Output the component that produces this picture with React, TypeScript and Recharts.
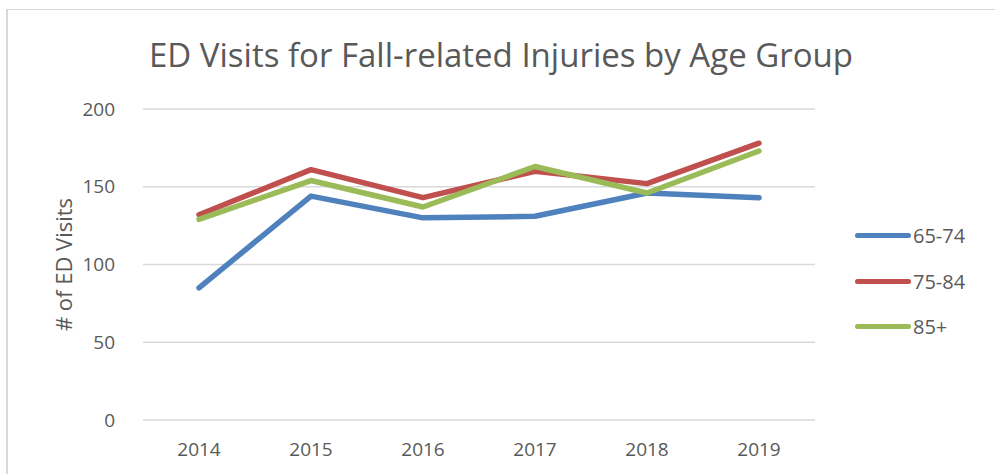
import React from "react";
import { LineChart, Line, XAxis, YAxis, CartesianGrid } from "recharts";

const years = ["2014", "2015", "2016", "2017", "2018", "2019"];
const age65to74 = [85, 144, 130, 131, 146, 143];
const age75to84 = [132, 161, 143, 160, 152, 178];
const age85plus = [129, 154, 137, 163, 146, 173];
const yTicks = [0, 50, 100, 150, 200];

const series = [
  { key: "65-74", color: "#4f81bd" },
  { key: "75-84", color: "#c0504d" },
  { key: "85+", color: "#9bbb59" },
];

const data = years.map((year, i) => ({
  year,
  "65-74": age65to74[i],
  "75-84": age75to84[i],
  "85+": age85plus[i],
}));

const FONT = "'Open Sans', sans-serif";

function LegendBox() {
  return (
    <div style={{ position: "absolute", left: 855, top: 213, fontFamily: FONT }}>
      {series.map((s) => (
        <div key={s.key} style={{ display: "flex", alignItems: "center", height: 45.5 }}>
          <div style={{ width: 56, height: 5, borderRadius: 3, background: s.color }} />
          <span style={{ fontSize: 20, color: "#595959", marginLeft: 2 }}>{s.key}</span>
        </div>
      ))}
    </div>
  );
}

export default function App() {
  return (
    <div style={{ position: "fixed", left: 0, top: 0, width: 995, height: 474, background: "#fff", overflow: "hidden" }}>
      <div
        style={{
          position: "absolute",
          top: 32,
          left: 0,
          width: 1002,
          textAlign: "center",
          fontFamily: FONT,
          fontSize: 33,
          color: "#595959",
        }}
      >
        ED Visits for Fall-related Injuries by Age Group
      </div>
      <div style={{ position: "absolute", left: 0, top: 0 }}>
        <LineChart
          width={995}
          height={474}
          data={data}
          margin={{ top: 109, right: 180, left: 0, bottom: 0 }}
        >
          <CartesianGrid vertical={false} stroke="#d9d9d9" strokeWidth={1.5} />
          <XAxis
            dataKey="year"
            axisLine={false}
            tickLine={false}
            height={54}
            padding={{ left: 56, right: 56 }}
            tickMargin={17}
            tick={{ fill: "#595959", fontSize: 19, fontFamily: FONT }}
          />
          <YAxis
            width={143}
            domain={[0, 200]}
            ticks={yTicks}
            axisLine={false}
            tickLine={false}
            tickMargin={22}
            tick={{ fill: "#595959", fontSize: 19, fontFamily: FONT }}
            label={{
              value: "# of ED Visits",
              angle: -90,
              position: "insideLeft",
              dx: 59,
              dy: 0,
              style: { textAnchor: "middle", fill: "#595959", fontSize: 22, fontFamily: FONT },
            }}
          />
          {series.map((s) => (
            <Line
              key={s.key}
              type="linear"
              dataKey={s.key}
              stroke={s.color}
              strokeWidth={5.5}
              strokeLinecap="round"
              strokeLinejoin="round"
              dot={false}
              activeDot={false}
              isAnimationActive={false}
            />
          ))}
        </LineChart>
      </div>
      <LegendBox />
      <div
        style={{
          position: "absolute",
          left: 6,
          top: 9,
          width: 1000,
          height: 480,
          borderTop: "1px solid #d9d9d9",
          borderLeft: "2px solid #d9d9d9",
          boxSizing: "border-box",
          pointerEvents: "none",
        }}
      />
    </div>
  );
}
